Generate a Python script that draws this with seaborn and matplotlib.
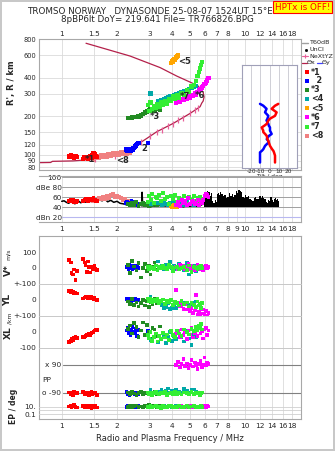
import matplotlib
matplotlib.use('Agg')
import matplotlib.pyplot as plt
import seaborn as sns
from matplotlib.ticker import FixedLocator, FixedFormatter, NullLocator

sns.set_theme(style='white')
plt.rcParams['font.family'] = ['DejaVu Sans']

# ---------------- data ----------------
freq_ticks = [1, 1.5, 2, 3, 4, 5, 6, 7, 8, 10, 12, 14, 16, 18]
freq_ticks_mid = [1, 1.5, 2, 3, 4, 5, 6, 7, 8, 9, 10, 12, 14, 16, 18]
height_ticks = [80, 90, 100, 120, 150, 200, 300, 400, 600, 800]

# real-height / virtual profile curve (dark red)
prof_f = [1.356, 2.356, 3.43, 4.23, 5.19, 5.53, 5.89, 5.96, 5.89, 5.79, 5.67, 5.0, 4.06,
          3.29, 2.905, 2.56, 2.356, 2.16, 1.83, 1.48, 1.15, 0.89, 0.87, 0.752]
prof_h = [741, 589, 479, 411, 360, 344, 308, 282, 262, 253, 237, 210, 176,
          151, 134, 119, 105, 99.3, 96.3, 92, 89.5, 88.8, 87, 86.7]
# NeXtYZ markers
nex_f = [1.52, 1.95, 2.7, 3.03, 3.29, 3.5, 3.81, 4.02, 4.32, 4.6, 5.0, 5.32, 5.55]
nex_h = [93, 97, 126, 140, 151, 157, 167, 175, 185, 195, 210, 222, 232]

# tilt inset
tilt_h = [251, 243, 230, 216, 203, 193, 187, 176, 170, 165, 156, 152, 147, 142, 134, 130, 126, 119, 112, 109, 106, 100, 88.5]
tilt_y = [-10.5, -7, -3.5, -5.1, -1.6, -2.5, -3.5, -1.6, -1.0, 0.2, 0.2, 1.0, 2, -1.0, -3.3, -1.6, -1.6, -5.1, -7, -8.5, -10.5, -10.5, -10.5]
tilt_x = [9.1, 5.6, 2, 7.3, 5.6, 0.2, -1.5, -3.3, -6, -8.7, -7, -7, -5, -3.3, -2.5, -1.6, -1.0, 0.2, 2.5, 3.8, 4.5, 5.6, 5.6]

# echo 1 (red)
e1_f = [1.10, 1.12, 1.13, 1.15, 1.17, 1.19, 1.21, 1.31, 1.33, 1.35, 1.37, 1.39, 1.41, 1.43, 1.45, 1.47, 1.49, 1.51, 1.53, 1.55]
e1_r = [97, 99, 96, 98, 95, 97, 96, 93, 95, 94, 96, 93, 95, 97, 94, 99, 102, 101, 98, 96]
e1_db = [52, 54, 53, 55, 51, 50, 53, 52, 54, 56, 55, 53, 57, 55, 54, 56, 58, 55, 53, 52]
e1_v = [51, 35, -31, -40, -10, -76, -20, 57, 35, 18, -25, 40, 5, -28, 10, -10, 0, 15, -5, -12]
e1_yl = [58, 52, 55, 48, 45, 42, 40, 10, 15, 18, 20, 14, 17, 12, 19, 10, 8, 15, 3, 0]
e1_xl = [-62, -55, -45, -50, -38, -32, -36, -33, -30, -25, -20, -18, -12, -22, -8, -3, 2, 10, 15, 12]
e1_pp = [-85, -95, -90, -100, -82, -92, -88, -80, -98, -86, -94, -84, -100, -90, -82, -96, -88, -92, -85, -99]
e1_ep = [12, 20, 8, 15, 25, 10, 6, 18, 9, 14, 22, 7, 12, 16, 5, 11, 20, 8, 13, 6]

# echo 2 (blue)
e2_f = [2.25, 2.28, 2.31, 2.34, 2.37, 2.40, 2.43, 2.46, 2.50, 2.54, 2.58, 2.62, 2.95]
e2_r = [110, 108, 109, 107, 108, 110, 109, 113, 116, 118, 121, 124, 124]
e2_db = [48, 50, 46, 49, 47, 52, 50, 48, 46, 49, 45, 47, 48]
e2_v = [5, 10, -5, 20, 0, 15, -8, 3, 12, -3, 8, 0, 5]
e2_yl = [5, -5, 8, 0, 10, -8, 3, -3, 6, -2, 0, 4, 2]
e2_xl = [10, 25, -5, 15, -20, 5, 30, -10, 0, 20, -25, 12, 5]
e2_pp = [-80, -95, -88, -100, -85, -92, -78, -90, -96, -84, -89, -93, -90]
e2_ep = [10, 15, 8, 20, 12, 6, 14, 9, 18, 11, 7, 13, 10]

# echo 3 (dark green)
e3_f = [2.30, 2.36, 2.42, 2.48, 2.55, 2.62, 2.70, 2.78, 2.85, 2.92, 2.98, 3.05, 3.12, 3.20, 3.30, 3.42]
e3_r = [193, 194, 195, 196, 197, 199, 203, 208, 213, 218, 222, 225, 228, 221, 230, 226]
e3_db = [46, 44, 48, 45, 50, 43, 47, 49, 44, 46, 42, 48, 45, 47, 44, 46]
e3_v = [20, -30, 45, 10, -15, 30, -60, 0, 25, -20, 15, -40, 5, 35, -10, 8]
e3_yl = [-10, -25, 5, -30, -15, -40, -20, 0, -35, -5, -45, -12, -28, 10, -18, -22]
e3_xl = [20, 40, -10, 55, 30, -30, 10, 60, -20, 45, 0, -40, 25, 15, -25, 35]
e3_pp = [-85, -95, -80, -92, -100, -88, -82, -96, -90, -84, -98, -86, -92, -80, -94, -88]
e3_ep = [10, 18, 7, 14, 22, 9, 12, 6, 16, 11, 25, 8, 13, 19, 10, 15]

# echo 4 (teal)
e4_f = [3.05, 3.35, 3.50, 3.60, 3.70, 3.80, 3.90, 4.00, 4.10, 4.20, 4.35, 4.50, 4.65, 4.80, 4.95, 5.10, 5.25, 5.40]
e4_r = [300, 262, 268, 270, 275, 280, 284, 287, 292, 298, 303, 308, 312, 318, 325, 332, 340, 345]
e4_db = [46, 48, 45, 50, 47, 44, 49, 46, 51, 45, 48, 47, 44, 50, 46, 49, 45, 47]
e4_v = [10, 40, 15, -5, 20, 5, 38, 0, 12, -10, 25, 8, -15, 30, -40, 5, 15, -20]
e4_yl = [20, -10, -30, -52, -45, -20, -55, -48, -35, -50, -25, -40, -15, -60, -30, -45, -20, -10]
e4_xl = [-50, -65, -40, -20, -70, -30, 0, -55, -25, -45, -10, -35, -60, 10, -40, -80, -20, -30]
e4_pp = [-70, -80, -65, -85, -75, -60, -90, -72, -78, -68, -82, -88, -62, -76, -84, -70, -66, -80]
e4_ep = [10, 12, 8, 15, 9, 11, 14, 7, 10, 13, 9, 12, 8, 11, 15, 10, 9, 12]

# echo 5 (orange)
e5_f = [3.95, 3.98, 4.02, 4.06, 4.10, 4.14, 4.18, 4.22, 4.26, 4.30]
e5_r = [520, 540, 530, 550, 560, 548, 575, 580, 590, 595]
e5_db = [42, 40, 43, 41, 44, 42, 40, 43, 41, 42]

# echo 6 (magenta)
e6_f = [4.20, 4.30, 4.40, 4.50, 4.60, 4.70, 4.80, 4.90, 5.00, 5.10, 5.20, 5.30, 5.40, 5.50, 5.60, 5.70, 5.80, 5.90, 6.00, 6.10, 6.20, 6.30]
e6_r = [252, 262, 258, 270, 266, 278, 272, 285, 280, 292, 288, 300, 296, 310, 318, 325, 335, 345, 355, 365, 380, 395]
e6_db = [45, 50, 43, 55, 48, 52, 44, 58, 47, 50, 53, 46, 49, 55, 45, 51, 48, 54, 62, 66, 64, 60]
e6_v = [10, -5, 20, 0, 15, -10, 5, 25, -8, 12, 0, -15, 8, 18, -5, 3, 10, -12, 6, 15, 0, 5]
e6_yl = [62, -20, -40, -30, -55, -25, -60, -45, -70, -50, -80, -65, 30, -90, -75, -96, -85, -60, -95, -70, -97, -80]
e6_xl = [-10, 5, -30, 15, -20, 0, -45, 10, -15, 25, -35, -5, 20, -25, 30, -10, 5, -40, 15, 25, -20, 10]
e6_pp = [90, 110, 75, 95, 130, 85, 100, 70, 92, 120, 80, 105, 88, 65, 98, 115, 78, 93, 140, 86, 102, 95]
e6_ep = [9, 12, 8, 14, 10, 7, 11, 13, 9, 15, 10, 8, 12, 11, 9, 14, 10, 12, 18, 9, 15, 11]

# echo 7 (green)
e7_f = [2.95, 3.00, 3.05, 3.10, 3.18, 3.25, 3.32, 3.40, 3.48, 3.56, 3.65, 3.75, 3.85, 3.95, 4.05,
        4.15, 4.25, 4.35, 4.50, 4.65, 4.80, 4.95, 5.10, 5.25, 5.40, 5.50, 5.58, 5.65, 5.72, 5.80]
e7_r = [245, 220, 255, 228, 240, 232, 250, 238, 255, 246, 262, 250, 270, 262, 285,
        272, 290, 280, 300, 295, 320, 310, 340, 350, 375, 410, 440, 470, 500, 530]
e7_db = [50, 62, 55, 66, 48, 60, 58, 64, 52, 68, 56, 61, 47, 63, 57,
         65, 50, 59, 54, 62, 46, 60, 55, 63, 52, 58, 49, 61, 56, 53]
e7_v = [5, -10, 10, 0, -5, 15, -15, 8, -3, 12, 0, -8, 20, 5, -20,
        3, 10, -5, 0, 8, -12, 15, -25, 5, 0, -10, 8, -3, 12, 0]
e7_yl = [10, -5, 5, -15, 0, -10, 8, -20, -5, 3, -25, -8, -15, 0, -30,
         -10, -20, -35, -5, -25, -15, -40, -20, -30, -45, -10, -35, -25, -50, -20]
e7_xl = [-20, -40, 0, -55, -30, -10, -60, -25, -45, -5, -35, -15, -50, 5, -20,
         -30, 10, -10, -25, 15, 0, -15, 20, 5, 30, 10, 40, 25, 50, 15]
e7_pp = [-85, -95, -90, -100, -88, -80, -92, -97, -86, -90, -83, -99, -91, -87, -95,
         -82, -93, -89, -98, -85, -90, -94, -81, -96, -88, -92, -86, -100, -90, -84]
e7_ep = [10, 8, 14, 6, 12, 18, 9, 11, 5, 15, 10, 7, 13, 20, 8,
         12, 6, 16, 10, 9, 14, 7, 11, 18, 8, 12, 10, 6, 15, 9]

# echo 8 (salmon)
e8_f = [1.48, 1.52, 1.56, 1.60, 1.64, 1.68, 1.72, 1.76, 1.80, 1.85, 1.90, 1.95, 2.00, 2.05, 2.10, 2.15, 2.20, 2.25, 2.30, 2.35]
e8_r = [92, 95, 97, 94, 99, 96, 100, 97, 101, 98, 102, 99, 103, 100, 104, 101, 105, 102, 106, 103]
e8_db = [52, 55, 54, 58, 56, 60, 57, 62, 59, 64, 66, 61, 63, 60, 58, 55, 57, 53, 52, 50]

# noise (T60dB) trace
noise_f = [1.00, 1.03, 1.06, 1.09, 1.12, 1.15, 1.18, 1.21, 1.24, 1.27,
           1.30, 1.34, 1.38, 1.42, 1.46, 1.50, 1.55, 1.60, 1.66, 1.72,
           1.78, 1.85, 1.92, 2.00, 2.08, 2.16, 2.25, 2.35, 2.45, 2.55,
           2.65, 2.72, 2.74, 2.76, 2.85, 2.95, 3.05, 3.15, 3.30, 3.45,
           3.60, 3.80, 4.00, 4.20, 4.40, 4.60, 4.80, 5.00, 5.20, 5.40,
           5.60, 5.80]
noise_db = [52, 53, 50, 48, 51, 49, 47, 50, 52, 49,
            51, 50, 53, 51, 54, 52, 50, 55, 53, 56,
            51, 54, 50, 52, 48, 47, 45, 43, 44, 42,
            45, 43, 70, 43, 42, 44, 41, 43, 42, 44,
            43, 42, 44, 42, 43, 41, 43, 42, 44, 42,
            43, 45]
band_f = [5.95, 6.05, 6.15, 6.25, 6.35, 6.45, 6.55, 6.65, 6.75, 6.85, 6.95, 7.05, 7.15, 7.25, 7.35,
          7.45, 7.6, 7.75, 7.9, 8.05, 8.2, 8.35, 8.5, 8.65, 8.8, 8.95, 9.1, 9.25, 9.4, 9.55,
          9.7, 9.85, 10.0, 10.2, 10.4, 10.6, 10.8, 11.0, 11.2, 11.4, 11.6, 11.8, 12.0, 12.2, 12.4,
          12.6, 12.8, 13.0, 13.2, 13.4, 13.6, 13.8, 14.0, 14.2, 14.4, 14.6, 14.8, 15.0, 15.2]
band_top = [66, 71, 69, 72, 70, 62, 68, 52, 48, 55, 50, 66, 69, 64, 70,
            67, 62, 65, 58, 60, 68, 63, 66, 60, 64, 72, 68, 75, 73, 70,
            60, 58, 64, 61, 62, 57, 55, 52, 58, 60, 56, 57, 63, 58, 62,
            59, 56, 50, 48, 54, 52, 60, 55, 50, 56, 58, 54, 56, 52]
band_floor = 41

# ---------------- styling ----------------
W, H = 335, 451
XLIM = (0.752, 20.1)
FRAME = '#a8a8a8'
GRID = '#dadada'
C = {1: '#ff0000', 2: '#0000ff', 3: '#228b22', 4: '#00a8a8', 5: '#ffa500',
     6: '#ff00ff', 7: '#33ee33', 8: '#f08080'}
PROF = '#b4204a'
FS = 5.3

fig = plt.figure(figsize=(W / 100, H / 100), dpi=100)
fig.patch.set_facecolor('white')


def box(l, t, r, b):
    return [l / W, 1 - b / H, (r - l) / W, (b - t) / H]


def ftext(x, y, s, **kw):
    fig.text(x / W, 1 - y / H, s, **kw)


def style_frame(a, color=FRAME):
    for s in a.spines.values():
        s.set_color(color)
        s.set_linewidth(0.8)


def set_freq_axis(a, ticks, where):
    a.set_xscale('log')
    a.set_xlim(XLIM)
    a.xaxis.set_major_locator(FixedLocator(ticks))
    a.xaxis.set_major_formatter(FixedFormatter([f'{t:g}' for t in ticks]))
    a.xaxis.set_minor_locator(NullLocator())
    if where == 'top':
        a.xaxis.tick_top()
    a.tick_params(axis='x', length=0, labelsize=FS, pad=1.5)
    a.grid(True, axis='x', color=GRID, lw=0.6)


def dots(a, x, y, c, s=5):
    sns.scatterplot(x=x, y=y, ax=a, color=c, marker='s', s=s, linewidth=0,
                    edgecolor='none', legend=False, zorder=3)


# ---------------- main height panel ----------------
ax = fig.add_axes(box(39, 39, 301, 170))
set_freq_axis(ax, freq_ticks, 'top')
ax.set_yscale('log')
ax.set_ylim(76, 800)
ax.yaxis.set_major_locator(FixedLocator(height_ticks))
ax.yaxis.set_major_formatter(FixedFormatter([str(t) for t in height_ticks]))
ax.yaxis.set_minor_locator(NullLocator())
ax.tick_params(axis='y', length=0, labelsize=4.8, pad=2)
ax.grid(True, axis='y', color=GRID, lw=0.6)
style_frame(ax)

ax.plot(prof_f, prof_h, color=PROF, lw=0.9, zorder=2)
ax.plot(nex_f, nex_h, ls='none', marker='|', ms=4, mew=0.9, color='#e8609a', zorder=2)

for fl, rl, k in [(e8_f, e8_r, 8), (e1_f, e1_r, 1), (e2_f, e2_r, 2), (e3_f, e3_r, 3),
                  (e4_f, e4_r, 4), (e6_f, e6_r, 6), (e7_f, e7_r, 7), (e5_f, e5_r, 5)]:
    dots(ax, fl, rl, C[k], s=10)
ax.set_xlabel('')
ax.set_ylabel('')

for f, h, s in [(1.33, 92, '*1'), (1.98, 90, '<8'), (2.72, 111, '2'), (3.0, 199, '*3'),
                (4.3, 535, '<5'), (4.4, 287, '*7'), (5.3, 291, '*6')]:
    ax.text(f, h, s, fontsize=6, fontweight='bold', va='center', ha='left', zorder=5)

# ---------------- tilt inset ----------------
axi = fig.add_axes(box(242.3, 65, 297.3, 167.7))
axi.set_xlim(-29.5, 29.5)
axi.set_yscale('log')
axi.set_ylim(80.7, 501)
axi.set_xticks([-20, -10, 0, 10, 20])
axi.set_xticklabels(['-20', '-10', '0', '10', '20'])
axi.yaxis.set_major_locator(NullLocator())
axi.yaxis.set_minor_locator(NullLocator())
axi.tick_params(axis='x', length=0, labelsize=4.2, pad=1)
axi.grid(True, axis='x', color='#c8c8d0', lw=0.6)
style_frame(axi, '#a0a0b8')
axi.plot(tilt_y, tilt_h, color='#0000ff', lw=1.8)
axi.plot(tilt_x, tilt_h, color='#ff0000', lw=1.8)
axi.set_xlabel('Tilt / deg', fontsize=4.3, labelpad=0)

# ---------------- amplitude panel ----------------
axd = fig.add_axes(box(39, 176, 301, 222))
set_freq_axis(axd, freq_ticks_mid, 'bottom')
axd.tick_params(axis='x', pad=3)
axd.set_ylim(10.6, 102.6)
axd.set_yticks([20, 40, 60, 80, 100])
axd.set_yticklabels(['dBn 20', '40', '60', 'dBe 80', '100'])
axd.tick_params(axis='y', length=0, labelsize=FS, pad=-16.5)
style_frame(axd)
axd.spines['left'].set_visible(False)
xm = (61.7 - 39) / 262
for yv in [40, 60, 80, 100]:
    axd.axhline(yv, xmin=xm, color='#a0a0a0', lw=0.7, zorder=1)
axd.axhline(20, xmin=xm, color='#b8b8f0', lw=0.8, zorder=1)
axd.plot(noise_f, noise_db, color='black', lw=1.1, zorder=2)
axd.fill_between(band_f, band_floor, band_top, step='mid', color='black', lw=0, zorder=2)
for fl, dl, k in [(e8_f, e8_db, 8), (e1_f, e1_db, 1), (e2_f, e2_db, 2), (e3_f, e3_db, 3),
                  (e4_f, e4_db, 4), (e5_f, e5_db, 5), (e7_f, e7_db, 7), (e6_f, e6_db, 6)]:
    dots(axd, fl, dl, C[k], s=8)
axd.set_xlabel('')
axd.set_ylabel('')

# ---------------- lower panels ----------------
axl = fig.add_axes(box(39, 236, 301, 419))
set_freq_axis(axl, freq_ticks, 'bottom')
axl.tick_params(axis='x', pad=3)
axl.set_ylim(0, 1)
axl.set_yticks([])
style_frame(axl)
axl.set_xlabel('Radio and Plasma Frequency / MHz', fontsize=6, labelpad=3.5)


def sub(top, bottom, ylim, yscale='linear'):
    a = fig.add_axes(box(39, top, 301, bottom))
    a.set_xscale('log')
    a.set_xlim(XLIM)
    a.set_yscale(yscale)
    a.set_ylim(ylim)
    a.patch.set_alpha(0)
    for s in a.spines.values():
        s.set_visible(False)
    a.xaxis.set_major_locator(NullLocator())
    a.xaxis.set_minor_locator(NullLocator())
    a.yaxis.set_minor_locator(NullLocator())
    a.tick_params(axis='y', length=0, labelsize=FS, pad=2)
    return a


axv = sub(236, 284, (-100, 200))
axv.set_yticks([100, 0])
axv.set_yticklabels(['100', '0'])
axyl = sub(284, 316, (-100, 100))
axyl.set_yticks([100, 0])
axyl.set_yticklabels(['+-100', '0'])
axxl = sub(316, 356, (-150, 100))
axxl.set_yticks([100, 0, -100])
axxl.set_yticklabels(['+-100', '0', '-100'])
axpp = sub(356, 400, (-132.7, 147.3))
axpp.set_yticks([])
axep = sub(400, 419, (0.0058, 579), 'log')
axep.yaxis.set_major_locator(FixedLocator([10, 0.1]))
axep.yaxis.set_major_formatter(FixedFormatter(['10.', '0.1']))

for a, yv in [(axyl, 100), (axxl, 100), (axxl, -100)]:
    a.axhline(yv, color='#c8c8c8', lw=0.7, clip_on=False, zorder=1)
xpp = (63 - 39) / 262
axpp.axhline(90, xmin=xpp, color='#808080', lw=0.8, zorder=1)
axpp.axhline(-90, xmin=xpp, color='#808080', lw=0.8, zorder=1)
for yv in [10, 1, 0.1]:
    axep.axhline(yv, color='#d0d0d0', lw=0.6, zorder=1)
axpp.text(0.995, 90, 'x 90', fontsize=FS, ha='right', va='center')
axpp.text(0.995, -90, 'o -90', fontsize=FS, ha='right', va='center')
axpp.text(0.785, -5, 'PP', fontsize=FS, ha='left', va='center')

lower_sets = [
    (e1_f, e1_v, e1_yl, e1_xl, e1_pp, e1_ep, 1),
    (e2_f, e2_v, e2_yl, e2_xl, e2_pp, e2_ep, 2),
    (e3_f, e3_v, e3_yl, e3_xl, e3_pp, e3_ep, 3),
    (e4_f, e4_v, e4_yl, e4_xl, e4_pp, e4_ep, 4),
    (e6_f, e6_v, e6_yl, e6_xl, e6_pp, e6_ep, 6),
    (e7_f, e7_v, e7_yl, e7_xl, e7_pp, e7_ep, 7),
]
for fl, vl, yl, xl, pl, el, k in lower_sets:
    dots(axv, fl, vl, C[k], s=7)
    dots(axyl, fl, yl, C[k], s=7)
    dots(axxl, fl, xl, C[k], s=7)
    dots(axpp, fl, pl, C[k], s=7)
    dots(axep, fl, el, C[k], s=7)
for a in [axv, axyl, axxl, axpp, axep]:
    a.set_xlabel('')
    a.set_ylabel('')

# ---------------- texts ----------------
ftext(150, 12, 'TROMSO NORWAY   DYNASONDE 25-08-07 1524UT 15°E', fontsize=6.3,
      ha='center', va='center')
ftext(157, 20, '8pBP6It DoY= 219.641 File= TR766826.BPG', fontsize=6.3,
      ha='center', va='center')
ftext(302.5, 7, 'HPTx is OFF!', fontsize=6.3, color='red', ha='center', va='center',
      bbox=dict(boxstyle='square,pad=0.2', fc='yellow', ec='red', lw=0.8))
ftext(12, 83, "R', R / km", rotation=90, fontsize=6, fontweight='bold', ha='center', va='center')
ftext(8, 270, 'V*', rotation=90, fontsize=6.5, fontweight='bold', ha='center', va='center')
ftext(8, 254, 'm/s', rotation=90, fontsize=4.5, ha='center', va='center')
ftext(8, 300, 'YL', rotation=90, fontsize=6.5, fontweight='bold', ha='center', va='center')
ftext(9.5, 318, '/km', rotation=90, fontsize=4.3, ha='center', va='center')
ftext(8, 333, 'XL', rotation=90, fontsize=6.5, fontweight='bold', ha='center', va='center')
ftext(13, 406, 'EP / deg', rotation=90, fontsize=5.5, fontweight='bold', ha='center', va='center')

# ---------------- legend (overlay) ----------------
ov = fig.add_axes([0, 0, 1, 1])
ov.set_xlim(0, W)
ov.set_ylim(H, 0)
ov.axis('off')
ov.patch.set_alpha(0)
ov.set_zorder(20)
LF = 4.6
ov.plot([302, 308], [43, 43], color='#a0a0a0', lw=1)
ov.text(309, 43, 'T60dB', fontsize=LF, va='center')
ov.plot([305.5], [49.5], marker='s', ms=1, color='black')
ov.text(309, 49.5, 'UnCl', fontsize=LF, va='center')
ov.plot([302, 308], [56, 56], color='#e8609a', lw=0.8)
ov.plot([305], [56], marker='+', ms=3.5, mew=0.8, color='#e8609a')
ov.text(309, 56, 'NeXtYZ', fontsize=LF, va='center')
ov.plot([302, 306.5], [62.5, 62.5], color=PROF, lw=0.9)
ov.text(306.8, 62.5, 'Θx', fontsize=LF, va='center')
ov.plot([317, 321.5], [62.5, 62.5], color='#4040ff', lw=0.9)
ov.text(321.8, 62.5, 'Θy', fontsize=LF, va='center')
leg_labels = ['*1', '  2', '*3', '<4', '<5', '*6', '*7', '<8']
leg_y = [72.3, 80.7, 90, 98.5, 108.3, 117.3, 126.7, 136]
for i, (lab, yy) in enumerate(zip(leg_labels, leg_y)):
    ov.scatter([306.5], [yy], marker='s', s=7, color=C[i + 1], linewidths=0)
    ov.text(311, yy, lab, fontsize=5.8, fontweight='bold', va='center')

fig.patch.set_edgecolor('#c8c8c8')
fig.patch.set_linewidth(1.5)
fig.savefig('out.png', dpi=100, facecolor='white', edgecolor=fig.get_edgecolor())
